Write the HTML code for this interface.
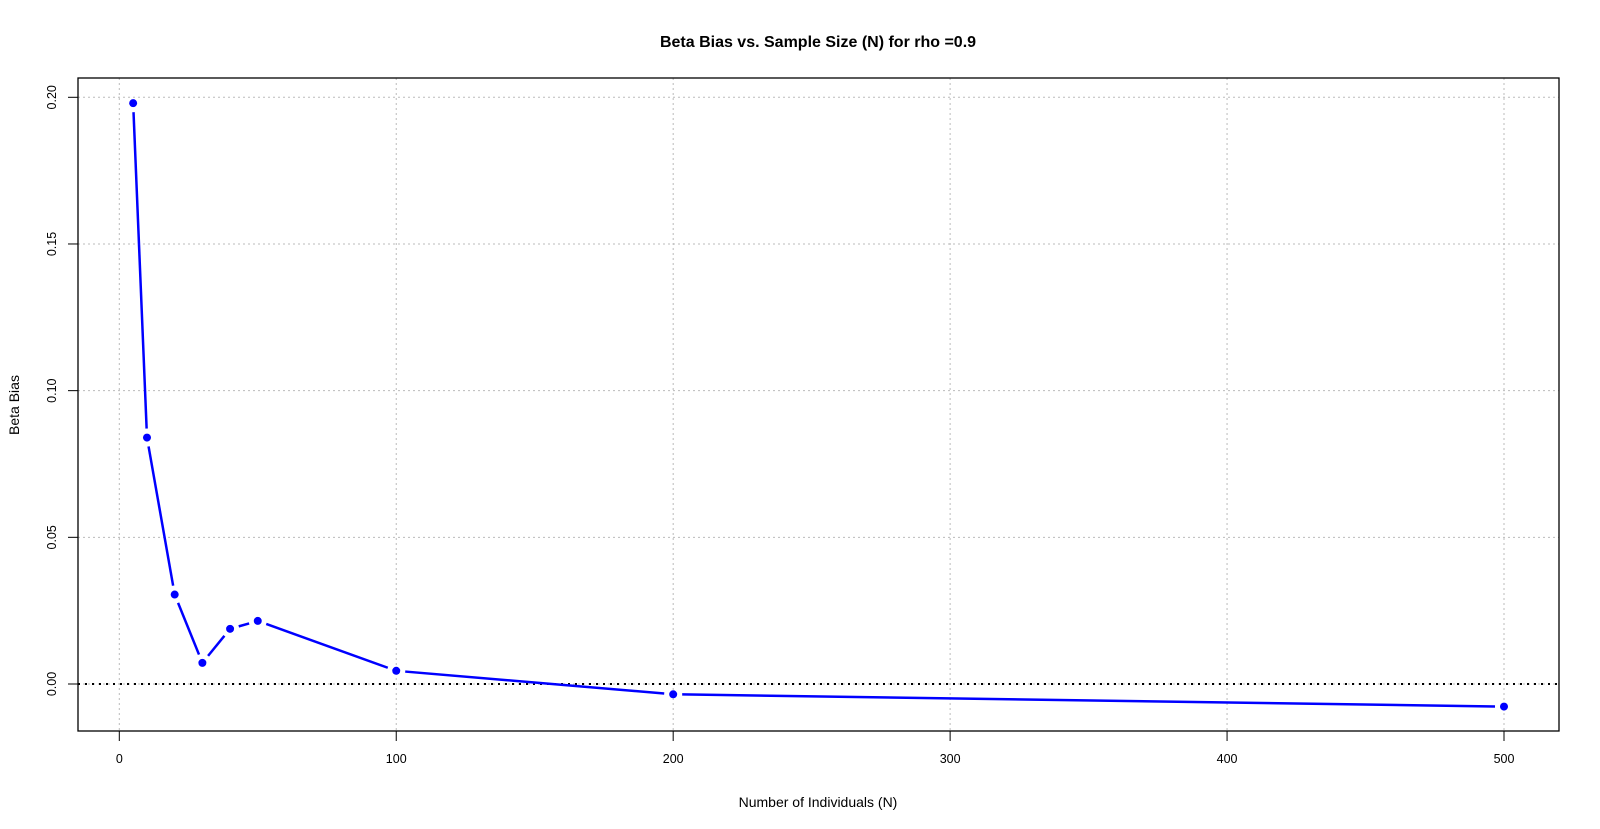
<!DOCTYPE html>
<html><head><meta charset="utf-8"><style>
html,body{margin:0;padding:0;background:#fff;}
svg{display:block;font-family:"Liberation Sans",Arial,sans-serif;}
</style></head><body>
<svg id="chart" width="1600" height="829" viewBox="0 0 1600 829" xmlns="http://www.w3.org/2000/svg">
<text x="818" y="47" text-anchor="middle" font-size="16" font-weight="bold">Beta Bias vs. Sample Size (N) for rho =0.9</text>
<text x="818" y="807" text-anchor="middle" font-size="14">Number of Individuals (N)</text>
<text transform="translate(19,405) rotate(-90)" text-anchor="middle" font-size="14">Beta Bias</text>
<g id="grid"></g>
<line id="zeroline" x1="78" x2="1559" stroke="#000" stroke-width="2" stroke-dasharray="2,5"/>
<g id="series"></g>
<rect x="78" y="78" width="1481" height="653" fill="none" stroke="#000" stroke-width="1.3"/>
<g id="axes"></g>
</svg>
<script>
const nValues=[5,10,20,30,40,50,100,200,500];
const biasValues=[0.198,0.084,0.0305,0.0072,0.0188,0.0215,0.0045,-0.0035,-0.0077];
const xTicks=[0,100,200,300,400,500];
const yTicks=[0,0.05,0.10,0.15,0.20];
const yTickLabels=["0.00","0.05","0.10","0.15","0.20"];
const ns="http://www.w3.org/2000/svg";
const X=v=>119.3+v*(1504-119.3)/500;
const Y=v=>684-v*(684-97.3)/0.2;
function mk(tag,attrs,parent){const e=document.createElementNS(ns,tag);for(const k in attrs)e.setAttribute(k,attrs[k]);parent.appendChild(e);return e;}
const grid=document.getElementById('grid'),axes=document.getElementById('axes'),series=document.getElementById('series');
document.getElementById('zeroline').setAttribute('y1',Y(0));
document.getElementById('zeroline').setAttribute('y2',Y(0));
xTicks.forEach(t=>{
 const g=mk('line',{x1:X(t),x2:X(t),y1:78,y2:731,stroke:'#bbb','stroke-dasharray':'2,3'},grid);
 
 
 const tk=mk('line',{x1:X(t),x2:X(t),y1:731,y2:741,stroke:'#000'},axes);
 
 
 const tx=mk('text',{x:X(t),y:763,'text-anchor':'middle','font-size':'12.5'},axes);
 tx.textContent=t;
 
 
});
yTicks.forEach((t,i)=>{
 const g=mk('line',{x1:78,x2:1559,y1:Y(t),y2:Y(t),stroke:'#bbb','stroke-dasharray':'2,3'},grid);
 
 
 const tk=mk('line',{x1:68,x2:78,y1:Y(t),y2:Y(t),stroke:'#000'},axes);
 
 
 const tx=mk('text',{transform:`translate(56,${Y(t)}) rotate(-90)`,'text-anchor':'middle','font-size':'12.5'},axes);
 tx.textContent=yTickLabels[i];
 
 
});
for(let i=0;i<nValues.length-1;i++){
 const x1=X(nValues[i]),y1=Y(biasValues[i]),x2=X(nValues[i+1]),y2=Y(biasValues[i+1]);
 const dx=x2-x1,dy=y2-y1,L=Math.hypot(dx,dy),gap=Math.min(9,L/3);
 const ux=dx/L,uy=dy/L;
 const s=mk('line',{x1:x1+ux*gap,y1:y1+uy*gap,x2:x2-ux*gap,y2:y2-uy*gap,stroke:'#0000ff','stroke-width':2.5},series);
 
 
}
nValues.forEach((n,i)=>{
 const c=mk('circle',{cx:X(n),cy:Y(biasValues[i]),r:4,fill:'#0000ff'},series);
 
 
});
</script>
</body></html>
